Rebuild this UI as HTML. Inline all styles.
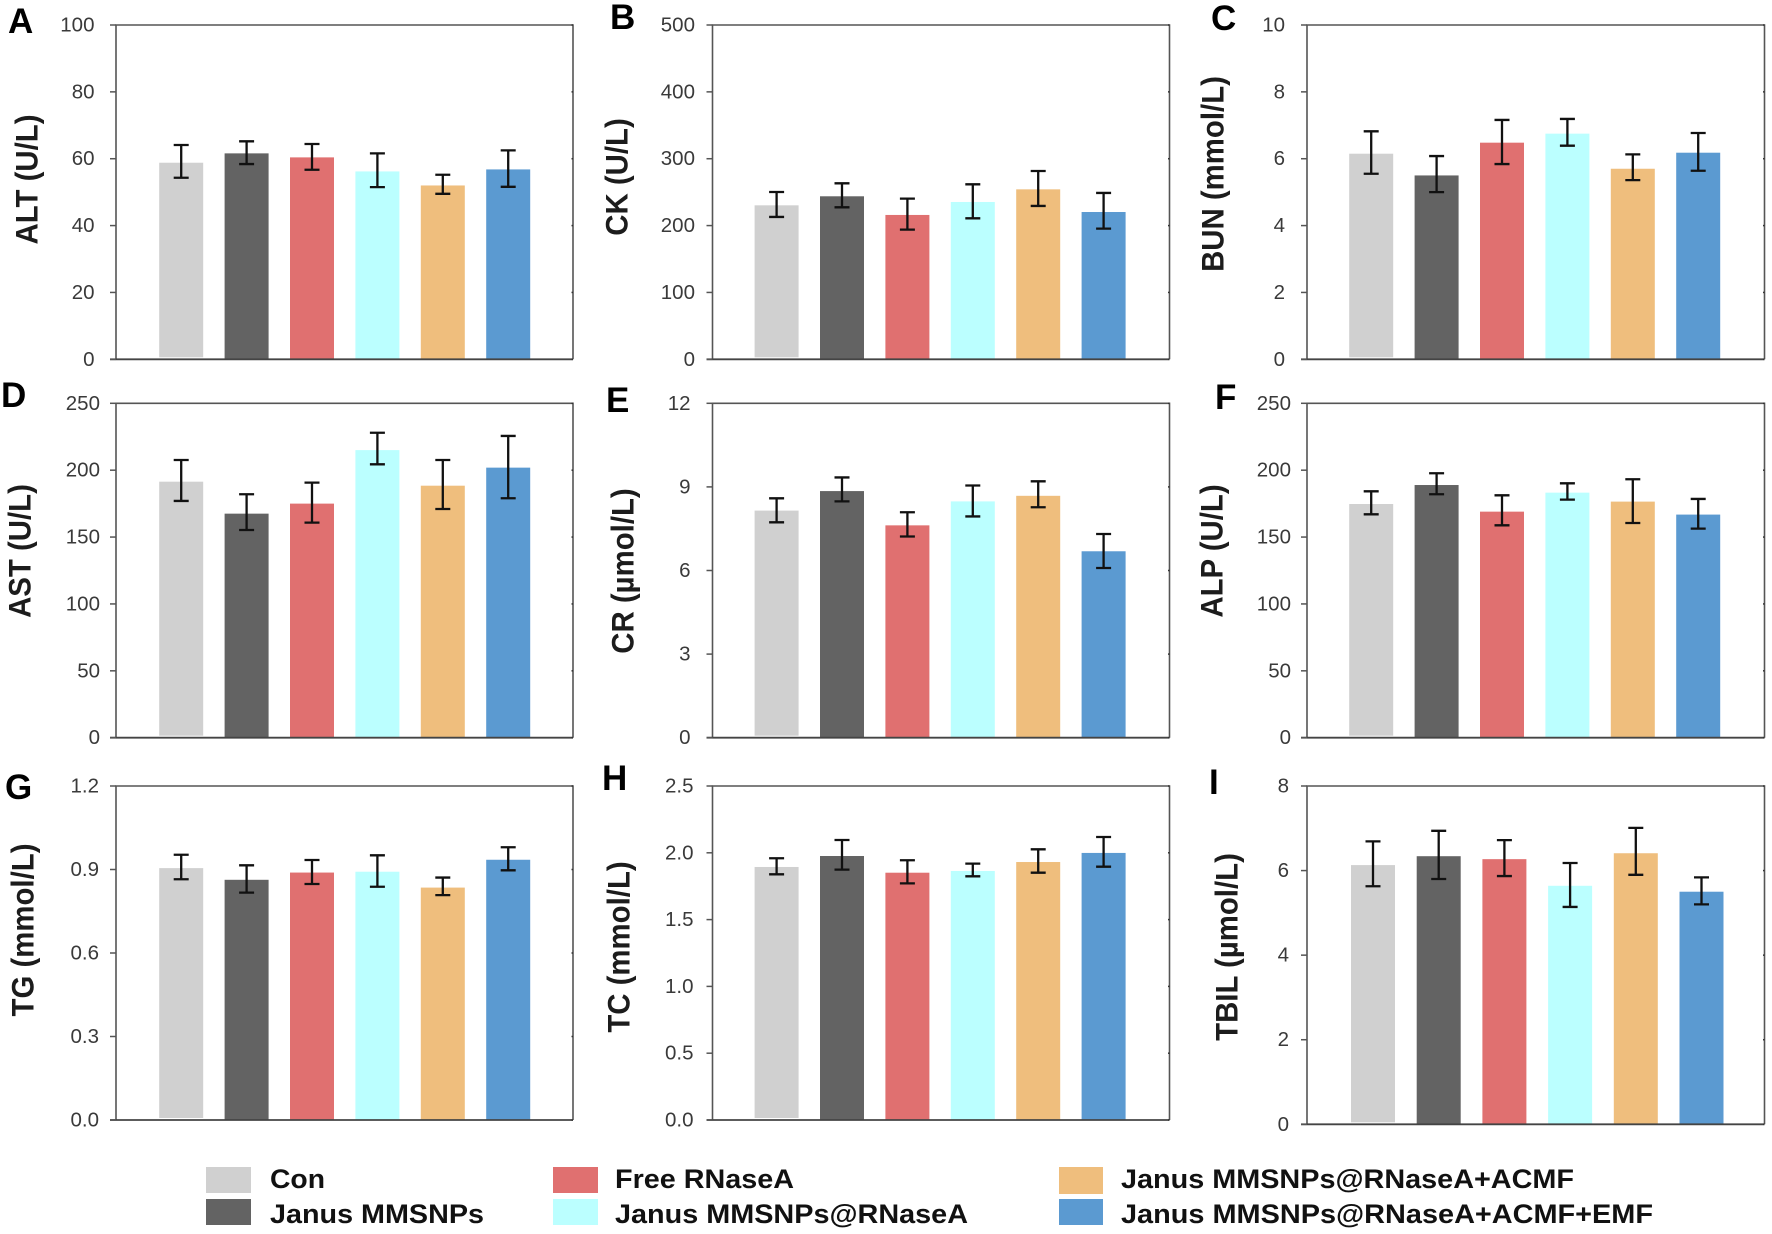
<!DOCTYPE html>
<html lang="en">
<head>
<meta charset="utf-8">
<title>Serum biochemistry bar charts</title>
<style>
html,body{margin:0;padding:0;background:#fff;width:1772px;height:1234px;overflow:hidden}
svg{display:block}
text{font-family:"Liberation Sans",sans-serif}
.tick-label{font-size:20.5px;fill:#3a3a3a;text-anchor:end}
.axis-title{font-size:29.4px;font-weight:bold;fill:#1c1c1c;text-anchor:middle}
.panel-letter{font-size:35px;font-weight:bold;fill:#000}
.legend-label{font-size:26.5px;font-weight:bold;fill:#111}
</style>
</head>
<body>
<svg id="figure" xmlns="http://www.w3.org/2000/svg" width="1772" height="1234" viewBox="0 0 1772 1234">
  <g>
    <rect x="206" y="1167" width="45" height="26" fill="#d0d0d0"/>
    <text class="legend-label" x="270" y="1188" textLength="55" lengthAdjust="spacingAndGlyphs">Con</text>
    <rect x="206" y="1199" width="45" height="26" fill="#636363"/>
    <text class="legend-label" x="270" y="1223" textLength="214" lengthAdjust="spacingAndGlyphs">Janus MMSNPs</text>
    <rect x="553" y="1167" width="45" height="26" fill="#e07070"/>
    <text class="legend-label" x="615" y="1188" textLength="179" lengthAdjust="spacingAndGlyphs">Free RNaseA</text>
    <rect x="553" y="1199" width="45" height="26" fill="#bbffff"/>
    <text class="legend-label" x="615" y="1223" textLength="353" lengthAdjust="spacingAndGlyphs">Janus MMSNPs@RNaseA</text>
    <rect x="1059" y="1167" width="44" height="27" fill="#efbe7d"/>
    <text class="legend-label" x="1121" y="1188" textLength="453" lengthAdjust="spacingAndGlyphs">Janus MMSNPs@RNaseA+ACMF</text>
    <rect x="1059" y="1199" width="44" height="26" fill="#5b9ad1"/>
    <text class="legend-label" x="1121" y="1223" textLength="532" lengthAdjust="spacingAndGlyphs">Janus MMSNPs@RNaseA+ACMF+EMF</text>
  </g>
</svg>
<script>
const groups = ['Con', 'Janus MMSNPs', 'Free RNaseA', 'Janus MMSNPs@RNaseA', 'Janus MMSNPs@RNaseA+ACMF', 'Janus MMSNPs@RNaseA+ACMF+EMF'];
const groupColors = ['#d0d0d0', '#636363', '#e07070', '#bbffff', '#efbe7d', '#5b9ad1'];

const altTicks = ['0', '20', '40', '60', '80', '100'];
const altValues = [58.8, 61.6, 60.4, 56.2, 52, 56.8];
const altUpper = [64.1, 65.2, 64.4, 61.6, 55.2, 62.5];
const altLower = [54.3, 58.4, 56.7, 51.5, 49.5, 51.6];

const ckTicks = ['0', '100', '200', '300', '400', '500'];
const ckValues = [230.3, 243.8, 215.9, 235.3, 254.2, 220.3];
const ckUpper = [250.2, 263.2, 240.3, 261.7, 281.6, 248.8];
const ckLower = [212.9, 227.3, 193.9, 210.9, 229.4, 195.4];

const bunTicks = ['0', '2', '4', '6', '8', '10'];
const bunValues = [6.15, 5.5, 6.48, 6.75, 5.7, 6.18];
const bunUpper = [6.82, 6.08, 7.16, 7.19, 6.13, 6.77];
const bunLower = [5.55, 5.0, 5.84, 6.39, 5.36, 5.64];

const astTicks = ['0', '50', '100', '150', '200', '250'];
const astValues = [191.4, 167.5, 175, 215, 188.4, 201.9];
const astUpper = [207.6, 182, 190.7, 228, 207.6, 225.6];
const astLower = [177, 155.3, 160.8, 204.4, 171, 179];

const crTicks = ['0', '3', '6', '9', '12'];
const crValues = [8.15, 8.85, 7.62, 8.48, 8.68, 6.69];
const crUpper = [8.59, 9.34, 8.09, 9.05, 9.2, 7.31];
const crLower = [7.73, 8.48, 7.22, 7.94, 8.27, 6.09];

const alpTicks = ['0', '50', '100', '150', '200', '250'];
const alpValues = [174.7, 188.9, 169, 183.2, 176.5, 166.8];
const alpUpper = [184.2, 197.7, 181.2, 190.2, 193.2, 178.5];
const alpLower = [167, 182, 158.8, 178, 160.5, 156.3];

const tgTicks = ['0.0', '0.3', '0.6', '0.9', '1.2'];
const tgValues = [0.905, 0.863, 0.889, 0.892, 0.835, 0.935];
const tgUpper = [0.953, 0.915, 0.934, 0.951, 0.871, 0.98];
const tgLower = [0.865, 0.817, 0.848, 0.838, 0.808, 0.897];

const tcTicks = ['0.0', '0.5', '1.0', '1.5', '2.0', '2.5'];
const tcValues = [1.894, 1.976, 1.851, 1.864, 1.931, 1.999];
const tcUpper = [1.959, 2.096, 1.944, 1.919, 2.026, 2.118];
const tcLower = [1.839, 1.874, 1.771, 1.824, 1.851, 1.896];

const tbilTicks = ['0', '2', '4', '6', '8'];
const tbilValues = [6.13, 6.34, 6.27, 5.64, 6.41, 5.5];
const tbilUpper = [6.69, 6.94, 6.72, 6.18, 7.01, 5.84];
const tbilLower = [5.63, 5.8, 5.87, 5.14, 5.9, 5.2];

const charts = [
  {key:'alt', letter:'A', title:'ALT (U/L)', ticks:altTicks, values:altValues, upper:altUpper, lower:altLower,
   box:[116,573,25,359.3], band:[65.2,65.4], labelGap:21.5, titlePos:[37.5,179.5], letterPos:[8,33]},
  {key:'ck', letter:'B', title:'CK (U/L)', ticks:ckTicks, values:ckValues, upper:ckUpper, lower:ckLower,
   box:[712.5,1169.5,25,359.3], band:[64.1,65.4], labelGap:17.5, titlePos:[627.5,177], letterPos:[610,29]},
  {key:'bun', letter:'C', title:'BUN (mmol/L)', ticks:bunTicks, values:bunValues, upper:bunUpper, lower:bunLower,
   box:[1307,1764.5,25,359.3], band:[64.2,65.4], labelGap:22, titlePos:[1223.5,174], letterPos:[1211,30]},
  {key:'ast', letter:'D', title:'AST (U/L)', ticks:astTicks, values:astValues, upper:astUpper, lower:astLower,
   box:[116,573,403.3,737.7], band:[65.2,65.4], labelGap:16, titlePos:[30.5,551], letterPos:[1,407]},
  {key:'cr', letter:'E', title:'CR (µmol/L)', ticks:crTicks, values:crValues, upper:crUpper, lower:crLower,
   box:[712.5,1169.5,403.3,737.7], band:[64.1,65.4], labelGap:22, titlePos:[633.5,571], letterPos:[606,412]},
  {key:'alp', letter:'F', title:'ALP (U/L)', ticks:alpTicks, values:alpValues, upper:alpUpper, lower:alpLower,
   box:[1307,1764.5,403.3,737.7], band:[64.2,65.4], labelGap:16, titlePos:[1222.5,551], letterPos:[1215,409]},
  {key:'tg', letter:'G', title:'TG (mmol/L)', ticks:tgTicks, values:tgValues, upper:tgUpper, lower:tgLower,
   box:[116,573,786,1120], band:[65.2,65.4], labelGap:17, titlePos:[33.5,930], letterPos:[5,799]},
  {key:'tc', letter:'H', title:'TC (mmol/L)', ticks:tcTicks, values:tcValues, upper:tcUpper, lower:tcLower,
   box:[712.5,1169.5,786,1120], band:[64.1,65.4], labelGap:19, titlePos:[629.5,947], letterPos:[602,790]},
  {key:'tbil', letter:'I', title:'TBIL (µmol/L)', ticks:tbilTicks, values:tbilValues, upper:tbilUpper, lower:tbilLower,
   box:[1307,1764.5,786,1124.3], band:[66,65.7], labelGap:18, titlePos:[1237.5,947], letterPos:[1209,794]}
];

const svgNS = 'http://www.w3.org/2000/svg';
const root = document.getElementById('figure');

function make(tag, attrs, parent, txt) {
  const node = document.createElementNS(svgNS, tag);
  for (const k in attrs) node.setAttribute(k, attrs[k]);
  if (txt !== undefined) node.textContent = txt;
  parent.appendChild(node);
  return node;
}

charts.forEach(function (c) {
  const left = c.box[0], right = c.box[1], top = c.box[2], bottom = c.box[3];
  const yMax = Number(c.ticks[c.ticks.length - 1]);
  const yScale = function (v) { return bottom - (v / yMax) * (bottom - top); };
  const xScale = function (i) { return left + c.band[0] + c.band[1] * i; };
  const barWidth = 44;
  const capHalf = 7.5;

  const g = make('g', {}, root);
  
  

  const letter = make('text', {class:'panel-letter', x:c.letterPos[0], y:c.letterPos[1]}, g, c.letter);
  
  

  const title = make('text', {class:'axis-title', transform:'translate(' + c.titlePos[0] + ' ' + c.titlePos[1] + ') rotate(-90) scale(1 1.08)'}, g, c.title);
  
  

  c.values.forEach(function (v, i) {
    const gap = i === 0 ? 2 : 0;
    const bar = make('rect', {x:xScale(i) - barWidth / 2, y:yScale(v), width:barWidth, height:bottom - yScale(v) - gap, fill:groupColors[i]}, g);
    
    
    const barTip = make('title', {}, bar, groups[i] + ': ' + v);
    
    
  });

  const frame = make('path', {d:'M' + left + ' ' + bottom + 'V' + top + 'H' + right + 'V' + bottom, fill:'none', stroke:'#555', 'stroke-width':1.6}, g);
  
  

  const baseline = make('line', {x1:left - 6, x2:right, y1:bottom, y2:bottom, stroke:'#444', 'stroke-width':1.8}, g);
  
  

  c.ticks.forEach(function (t) {
    const v = Number(t);
    const y = yScale(v);
    const tick = make('line', {x1:left - 6, x2:left, y1:y, y2:y, stroke:'#555', 'stroke-width':1.5}, g);
    
    
    const rightTick = make('line', {x1:right - 1.5, x2:right, y1:y, y2:y, stroke:'#333', 'stroke-width':1.5}, g);
    
    
    const label = make('text', {class:'tick-label', x:left - c.labelGap, y:y + 6.5}, g, t);
    
    
  });

  c.values.forEach(function (v, i) {
    const cx = xScale(i);
    const hi = yScale(c.upper[i]);
    const lo = yScale(c.lower[i]);
    const err = make('path', {
      d:'M' + cx + ' ' + hi + 'V' + lo + 'M' + (cx - capHalf) + ' ' + hi + 'H' + (cx + capHalf) + 'M' + (cx - capHalf) + ' ' + lo + 'H' + (cx + capHalf),
      fill:'none', stroke:'#111', 'stroke-width':2.3
    }, g);
    
    
  });
});
</script>
</body>
</html>
